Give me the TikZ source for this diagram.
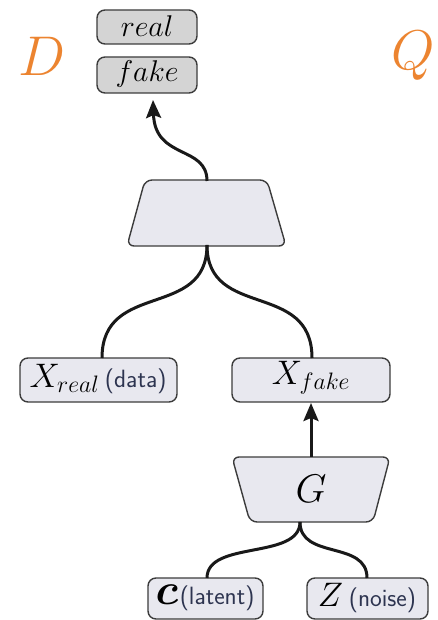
\RequirePackage{fix-cm}
\documentclass[tikz,border=0pt]{standalone}
\usepackage{amsmath}
\usetikzlibrary{arrows.meta}
\definecolor{dorange}{RGB}{236,132,48}
\definecolor{boxfill}{RGB}{232,232,239}
\definecolor{outfill}{RGB}{212,212,212}
\definecolor{edgecol}{RGB}{60,60,60}
\definecolor{lbl}{RGB}{45,52,80}
\newcommand{\lblsans}[1]{{\fontsize{25}{28}\selectfont\sffamily\color{lbl}#1}}
\tikzset{
  box/.style={draw=edgecol, line width=1.4pt, rounded corners=8pt, fill=boxfill},
  outbox/.style={draw=edgecol, line width=1.4pt, rounded corners=8pt, fill=outfill},
  trap/.style={draw=edgecol, line width=1.4pt, rounded corners=7pt, fill=boxfill},
  wire/.style={line width=3pt, black!90},
  arr/.style={wire, -{Stealth[length=18pt,width=15pt,inset=3pt]}},
  big/.style={font=\fontsize{34}{38}\selectfont},
}
\begin{document}
\begin{tikzpicture}[x=1pt,y=-1pt]
\useasboundingbox (0,0) rectangle (437,620);
% output boxes
\draw[outbox] (97,10) rectangle (197,44);
\node[font=\fontsize{30}{32}\selectfont] (real) at (147,26) {$real$};
\draw[outbox] (97,57) rectangle (197,93);
\node[font=\fontsize{30}{32}\selectfont] (fake) at (147,74) {$fake$};
\coordinate (fakebot) at (153,100);
% D and Q
\node[text=dorange, font=\fontsize{56}{60}\selectfont] (D) at (42,56) {$D$};
\node[text=dorange, font=\fontsize{56}{60}\selectfont] (Q) at (413,56) {$Q$};
% discriminator trapezoid
\draw[trap] (145,180) -- (267,180) -- (286,246) -- (127,246) -- cycle;
\node (disc) at (207,213) {};
\coordinate (dtop) at (207,181);
\coordinate (dbot) at (207,245);
% X boxes
\draw[box] (20,358) rectangle (177,402);
\node[big] (xreal) at (98,379) {$X_{real}$\,\lblsans{(data)}};
\coordinate (xrealtop) at (102,358);
\draw[box] (232,358) rectangle (390,402);
\node[big] (xfake) at (311,378) {$X_{fake}$};
\coordinate (xfaketop) at (312,358);
\coordinate (xfakebot) at (311,403);
% generator trapezoid
\draw[trap] (232,457) -- (390,457) -- (373,522) -- (250,522) -- cycle;
\node[font=\fontsize{40}{44}\selectfont] (G) at (311,489) {$G$};
\coordinate (gtop) at (311,457);
\coordinate (gbot) at (300,522);
% input boxes
\draw[box] (148,578) rectangle (263,619);
\node (c) at (205,598) {{\fontsize{44}{48}\selectfont$\boldsymbol{c}$}\,\lblsans{(latent)}};
\coordinate (ctop) at (207,578);
\draw[box] (307,578) rectangle (428,619);
\node[big] (z) at (367,598) {$Z$\,\lblsans{(noise)}};
\coordinate (ztop) at (367,578);
% connectors
\draw[arr] (dtop) .. controls (207,145) and (155,160) .. (fakebot);
\draw[wire] (dbot) .. controls (207,320) and (102,280) .. (xrealtop);
\draw[wire] (dbot) .. controls (207,320) and (312,280) .. (xfaketop);
\draw[arr] (gtop) -- (xfakebot);
\draw[wire] (gbot) .. controls (300,560) and (207,540) .. (ctop);
\draw[wire] (gbot) .. controls (300,560) and (367,540) .. (ztop);
\end{tikzpicture}
\end{document}
